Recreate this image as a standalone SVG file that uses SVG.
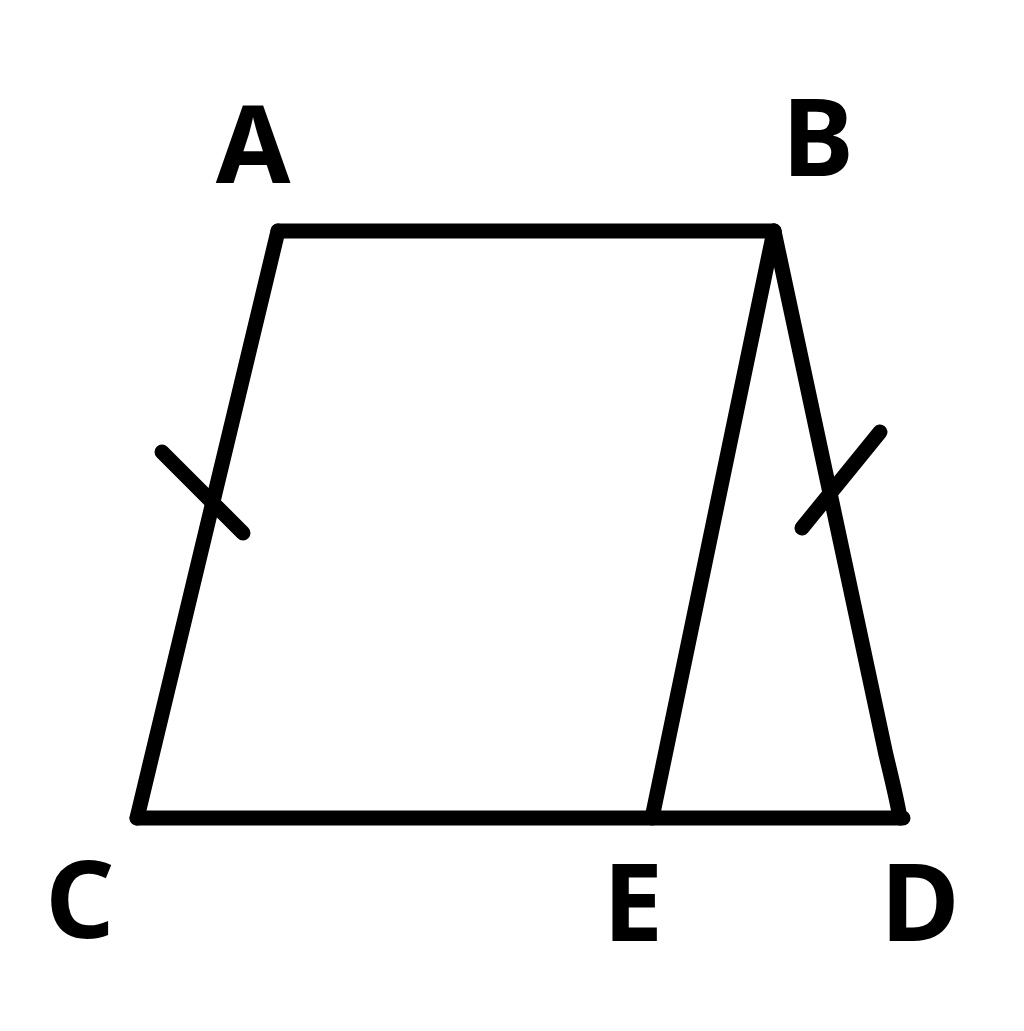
<svg xmlns="http://www.w3.org/2000/svg" width="1024" height="1031" viewBox="0 0 1024 1031">
<style>
.ln{fill:none;stroke:#000;stroke-width:15;stroke-linecap:round;stroke-linejoin:round}
.lb{font-family:"Noto Sans","Open Sans","Liberation Sans",sans-serif;font-weight:bold;font-size:108px;fill:#000;text-anchor:middle}
</style>
<rect width="1024" height="1031" fill="#fff"/>
<g id="connectors">
<path class="ln" d="M278,231 L774,231"/>
<path class="ln" d="M278,231 L137,818"/>
<path class="ln" d="M137,818 L903,818"/>
<path class="ln" d="M774,231 L652,818"/>
<path class="ln" d="M774,231 L886,755 Q897,800 900,818"/>
<path class="ln" d="M162,452 L243,533"/>
<path class="ln" d="M880,432 L802,528"/>
</g>
<g id="A"><text class="lb" x="253" y="183">A</text></g>
<g id="B"><text class="lb" x="818" y="176">B</text></g>
<g id="C"><text class="lb" x="80" y="938">C</text></g>
<g id="E"><text class="lb" x="633" y="941">E</text></g>
<g id="D"><text class="lb" x="920" y="941">D</text></g>
</svg>
